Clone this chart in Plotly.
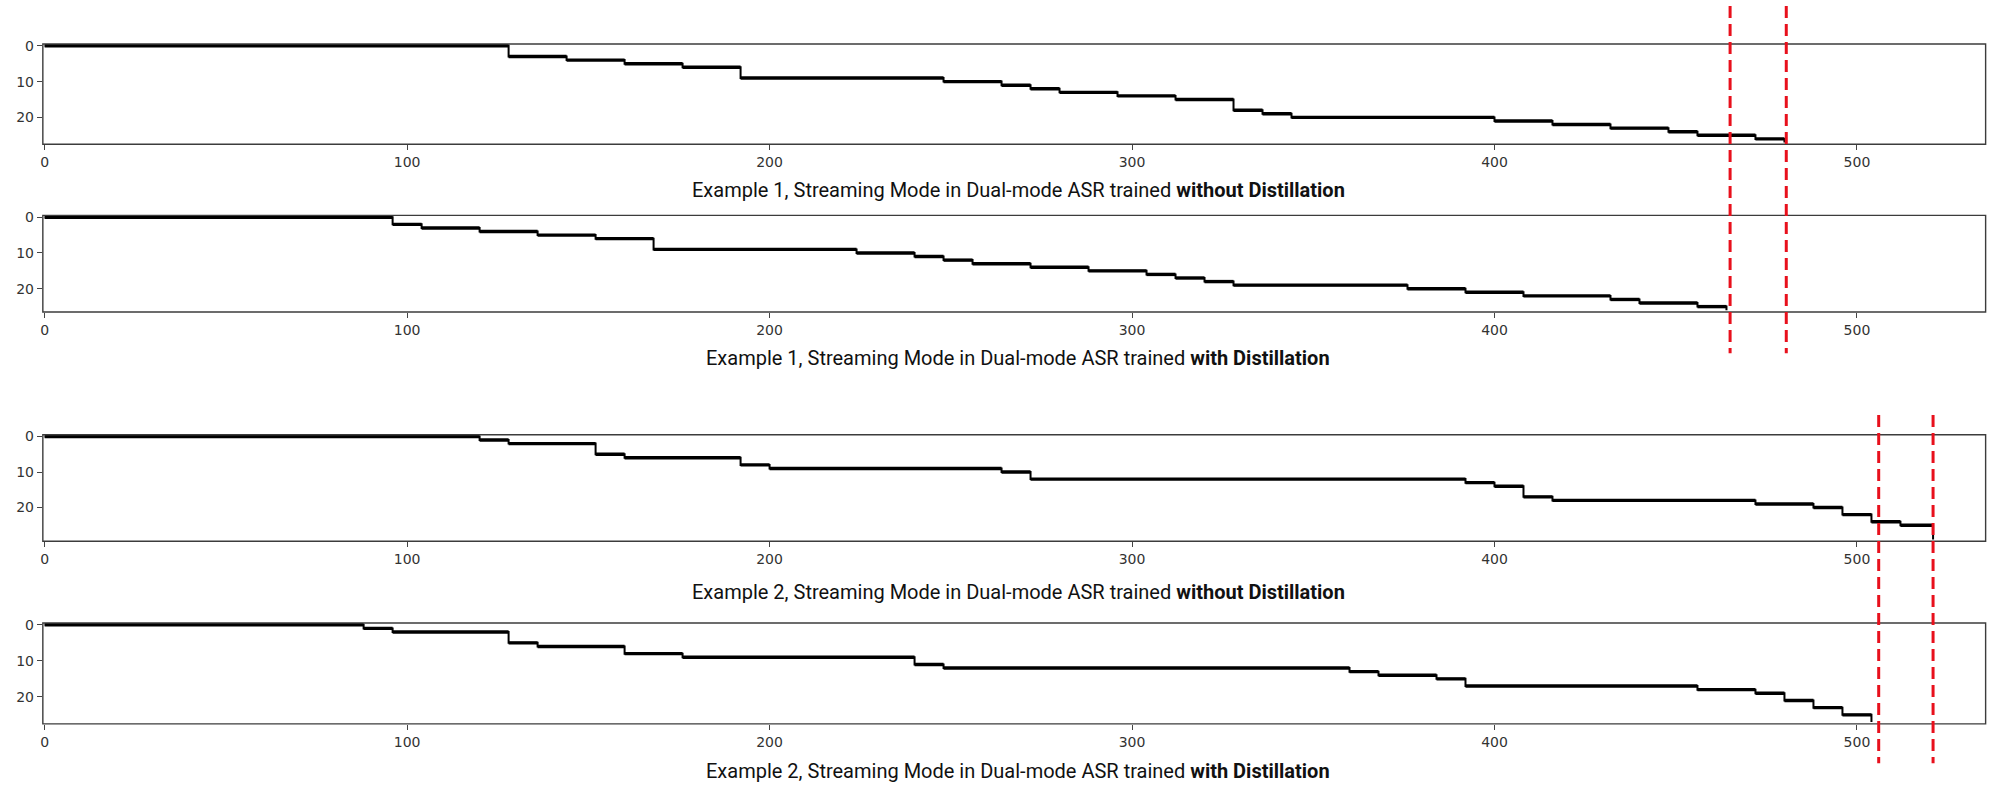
import plotly.graph_objects as go

# alignment paths: frame where each token starts, and token index
ex1_nodistill_frames = [0, 128, 144, 160, 176, 192, 248, 264, 272, 280, 296, 312, 328, 336, 344, 400, 416, 432, 448, 456, 472, 480]
ex1_nodistill_tokens = [0, 3, 4, 5, 6, 9, 10, 11, 12, 13, 14, 15, 18, 19, 20, 21, 22, 23, 24, 25, 26, 27]

ex1_distill_frames = [0, 96, 104, 120, 136, 152, 168, 224, 240, 248, 256, 272, 288, 304, 312, 320, 328, 376, 392, 408, 432, 440, 456, 464]
ex1_distill_tokens = [0, 2, 3, 4, 5, 6, 9, 10, 11, 12, 13, 14, 15, 16, 17, 18, 19, 20, 21, 22, 23, 24, 25, 26]

ex2_nodistill_frames = [0, 120, 128, 152, 160, 192, 200, 264, 272, 392, 400, 408, 416, 472, 488, 496, 504, 512, 521]
ex2_nodistill_tokens = [0, 1, 2, 5, 6, 8, 9, 10, 12, 13, 14, 17, 18, 19, 20, 22, 24, 25, 29]

ex2_distill_frames = [0, 88, 96, 128, 136, 160, 176, 240, 248, 360, 368, 384, 392, 456, 472, 480, 488, 496, 504]
ex2_distill_tokens = [0, 1, 2, 5, 6, 8, 9, 11, 12, 13, 14, 15, 17, 18, 19, 21, 23, 25, 27]

n_tokens = [28, 27, 30, 28]
n_frames = 536
x_ticks = [0, 100, 200, 300, 400, 500]
y_ticks = [0, 10, 20]

ex1_markers = [465, 480.5]
ex2_markers = [506, 521]

captions = [
    "Example 1, Streaming Mode in Dual-mode ASR trained <b>without Distillation</b>",
    "Example 1, Streaming Mode in Dual-mode ASR trained <b>with Distillation</b>",
    "Example 2, Streaming Mode in Dual-mode ASR trained <b>without Distillation</b>",
    "Example 2, Streaming Mode in Dual-mode ASR trained <b>with Distillation</b>",
]

W, H = 2002, 797
panels_px = [(38.3, 139.3), (211, 308.3), (432, 539.3), (621.7, 723.3)]
caption_px = [185, 355, 590, 771]
x_dom = [39.9 / W, 1985.6 / W]

paths = [
    (ex1_nodistill_frames, ex1_nodistill_tokens),
    (ex1_distill_frames, ex1_distill_tokens),
    (ex2_nodistill_frames, ex2_nodistill_tokens),
    (ex2_distill_frames, ex2_distill_tokens),
]

fig = go.Figure()
layout = {}
shapes = []

for i, (frames, tokens) in enumerate(paths):
    sfx = "" if i == 0 else str(i + 1)
    xa, ya = "x" + sfx, "y" + sfx
    # thin step path (carries the vertical jumps)
    fig.add_trace(go.Scatter(x=frames, y=tokens, mode="lines", line=dict(color="black", width=2, shape="hv"),
                             xaxis=xa, yaxis=ya, showlegend=False, hoverinfo="skip"))
    # thicker horizontal runs
    hx, hy = [], []
    for k in range(len(frames) - 1):
        hx += [frames[k], frames[k + 1], None]
        hy += [tokens[k], tokens[k], None]
    fig.add_trace(go.Scatter(x=hx, y=hy, mode="lines", line=dict(color="black", width=3.4),
                             xaxis=xa, yaxis=ya, showlegend=False, hoverinfo="skip"))

    top, bot = panels_px[i]
    axis_style = dict(showline=False, showgrid=False, zeroline=False, ticks="outside", ticklen=5,
                      tickcolor="#444", tickwidth=1,
                      tickfont=dict(family="DejaVu Sans", size=14, color="#333"))
    layout["xaxis" + sfx] = dict(axis_style, domain=x_dom, range=[-0.5, n_frames - 0.5], tickvals=x_ticks,
                                 anchor=ya)
    layout["yaxis" + sfx] = dict(axis_style, domain=[1 - bot / H, 1 - top / H],
                                 range=[n_tokens[i] - 0.5, -0.5], tickvals=y_ticks, anchor=xa)
    # frame around each panel
    shapes.append(dict(type="rect", xref=xa + " domain", yref=ya + " domain", x0=0, x1=1, y0=0, y1=1,
                       line=dict(color="#3c3c3c", width=1.4), layer="above"))

for xv in ex1_markers:
    shapes.append(dict(type="line", xref="x", yref="paper", x0=xv, x1=xv, y0=1.0, y1=1 - 350 / H,
                       line=dict(color="#e8101c", width=3, dash="12px,6px")))
for xv in ex2_markers:
    shapes.append(dict(type="line", xref="x", yref="paper", x0=xv, x1=xv, y0=1 - 412 / H, y1=1 - 763 / H,
                       line=dict(color="#e8101c", width=3, dash="12px,6px")))

annotations = []
for cap, cy in zip(captions, caption_px):
    annotations.append(dict(text=cap, xref="paper", yref="paper", x=1017 / W, y=1 - cy / H,
                            xanchor="center", yanchor="middle", showarrow=False,
                            font=dict(family="Roboto", size=20, color="#111")))

fig.update_layout(**layout)
fig.update_layout(
    width=W, height=H, autosize=False,
    margin=dict(l=0, r=0, t=0, b=0),
    paper_bgcolor="white", plot_bgcolor="white",
    shapes=shapes, annotations=annotations,
)

fig.write_html("out.html", config={"displayModeBar": False},
               post_script="document.body.style.margin='0px';")
